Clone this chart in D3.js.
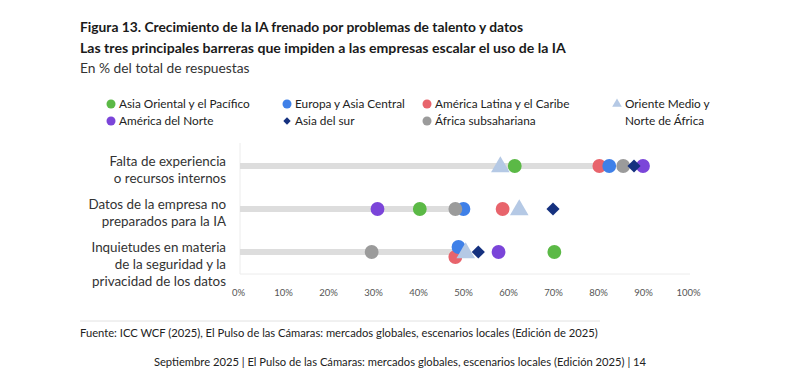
<!DOCTYPE html>
<html>
<head>
<meta charset="utf-8">
<script src="https://cdn.jsdelivr.net/npm/d3@7"></script>
<style>
    body { margin: 0; background: #fff; }
    svg { font-family: "Lato", "Open Sans", sans-serif; }
</style>
</head>
<body>
<div id="chart"></div>
<script>
const WIDTH = 800;
const HEIGHT = 382;

// ------------------------------ data ------------------------------
const barriers = [
    ["Falta de experiencia", "o recursos internos"],
    ["Datos de la empresa no", "preparados para la IA"],
    ["Inquietudes en materia", "de la seguridad y la", "privacidad de los datos"]
];
const regions = [
    "Asia Oriental y el Pacífico",
    "Europa y Asia Central",
    "América Latina y el Caribe",
    "Oriente Medio y Norte de África",
    "América del Norte",
    "Asia del sur",
    "África subsahariana"
];
// one value per barrier, in % of answers
const eastAsia = [61.5, 40.4, 70.3];
const europe = [82.5, 50.1, 49.0];
const latam = [80.3, 58.8, 48.3];
const mena = [58.3, 62.5, 50.6];
const northAmerica = [90.0, 31.0, 57.9];
const southAsia = [88.0, 70.0, 53.4];
const subSaharan = [85.6, 48.3, 29.7];
const barValues = [82, 50.5, 49.5];
const xTicks = [0, 10, 20, 30, 40, 50, 60, 70, 80, 90, 100];

const seriesValues = [eastAsia, europe, latam, mena, northAmerica, southAsia, subSaharan];
const COLORS = ["#5bb946", "#3f80e8", "#e8646c", "#b5c9e5", "#7b45d9", "#15317f", "#9b9b9b"];
const SHAPES = ["circle", "circle", "circle", "triangle", "circle", "diamond", "circle"];
// drawing order (later on top)
const DRAW_ORDER = [0, 2, 1, 6, 4, 5, 3];

const svg = d3.select("#chart")
    .append("svg")
    .attr("width", WIDTH)
    .attr("height", HEIGHT);

// --------------------------- titles ---------------------------
svg.append("text").attr("x", 80).attr("y", 32)
    .attr("font-size", 13.8).attr("font-weight", 700).attr("fill", "#1a1a1a")
    .text("Figura 13. Crecimiento de la IA frenado por problemas de talento y datos");
svg.append("text").attr("x", 80).attr("y", 53)
    .attr("font-size", 14.1).attr("font-weight", 700).attr("fill", "#1a1a1a")
    .text("Las tres principales barreras que impiden a las empresas escalar el uso de la IA");
svg.append("text").attr("x", 80).attr("y", 73)
    .attr("font-size", 13.8).attr("fill", "#333")
    .text("En % del total de respuestas");

// --------------------------- scales ---------------------------
const x = d3.scaleLinear().domain([0, 100]).range([238, 688]);
const y = d3.scalePoint().domain(d3.range(barriers.length)).range([166, 252]);

function symbolPath(shape, size) {
    const type = shape === "triangle" ? d3.symbolTriangle
        : shape === "diamond" ? d3.symbolDiamond2 : d3.symbolCircle;
    return d3.symbol().type(type).size(size)();
}

// --------------------------- legend ---------------------------
const legendCols = [111, 287, 427, 617];
const legendRows = [104, 121];
const legendPos = [[0, 0], [1, 0], [2, 0], [3, 0], [0, 1], [1, 1], [2, 1]];
const legend = svg.append("g").attr("font-size", 11.8).attr("fill", "#222");
regions.forEach((name, i) => {
    const [c, r] = legendPos[i];
    const lx = legendCols[c];
    const ly = legendRows[r];
    const size = SHAPES[i] === "circle" ? 64 : SHAPES[i] === "triangle" ? 40 : 35;
    legend.append("path")
        .attr("d", symbolPath(SHAPES[i], size))
        .attr("transform", `translate(${lx},${ly})`)
        .attr("fill", COLORS[i]);
    const lines = i === 3 ? ["Oriente Medio y", "Norte de África"] : [name];
    lines.forEach((line, k) => {
        legend.append("text")
            .attr("x", lx + 8)
            .attr("y", ly + 4 + k * 17)
            .attr("fill", "#222")
            .text(line);
    });
});

// --------------------------- axes ---------------------------
svg.append("line")
    .attr("x1", x(0) + 2).attr("x2", x(0) + 2)
    .attr("y1", 143).attr("y2", 274)
    .attr("stroke", "#ececec").attr("stroke-width", 1);
svg.append("line")
    .attr("x1", x(0) + 2).attr("x2", x(100) + 2)
    .attr("y1", 274).attr("y2", 274)
    .attr("stroke", "#ececec").attr("stroke-width", 1);

const xAxis = d3.axisBottom(x)
    .tickValues(xTicks)
    .tickSize(0)
    .tickFormat(d => `${d}%`);
svg.append("g")
    .attr("transform", "translate(0,286)")
    .call(xAxis)
    .call(g => g.select(".domain").remove())
    .selectAll("text")
    .attr("font-family", "Lato, sans-serif")
    .attr("font-size", 9.5)
    .attr("fill", "#555");

// --------------------------- category labels ---------------------------
const labels = svg.append("g").attr("font-size", 13.4).attr("fill", "#333").attr("text-anchor", "end");
barriers.forEach((lines, i) => {
    lines.forEach((line, k) => {
        labels.append("text")
            .attr("x", 226)
            .attr("y", y(i) + k * 17)
            .text(line);
    });
});

// --------------------------- bars ---------------------------
svg.append("g")
    .selectAll("line")
    .data(barValues)
    .enter()
    .append("line")
    .attr("x1", x(0) + 2)
    .attr("x2", d => x(d))
    .attr("y1", (d, i) => y(i))
    .attr("y2", (d, i) => y(i))
    .attr("stroke", "#dddddd")
    .attr("stroke-width", 6);

// --------------------------- points ---------------------------
const points = [];
DRAW_ORDER.forEach(s => {
    seriesValues[s].forEach((v, row) => {
        points.push({series: s, row: row, value: v, dy: 0});
    });
});
// small vertical dodge for points that sit almost on top of each other
barriers.forEach((_, row) => {
    const inRow = points.filter(p => p.row === row && SHAPES[p.series] === "circle");
    inRow.forEach(p => {
        const close = inRow.filter(q => q !== p && Math.abs(q.value - p.value) < 1);
        if (close.length) p.dy = p.value > close[0].value ? -5 : 5;
    });
});

svg.append("g")
    .selectAll("path")
    .data(points)
    .enter()
    .append("path")
    .attr("d", d => symbolPath(SHAPES[d.series],
        SHAPES[d.series] === "circle" ? 150 : SHAPES[d.series] === "triangle" ? 150 : 110))
    .attr("transform", d => `translate(${x(d.value)},${y(d.row) + d.dy + (SHAPES[d.series] === "triangle" ? 1 : 0)})`)
    .attr("fill", d => COLORS[d.series]);

// --------------------------- source / footer ---------------------------
svg.append("line")
    .attr("x1", 80).attr("x2", 600)
    .attr("y1", 321).attr("y2", 321)
    .attr("stroke", "#e2e2e2");
svg.append("text").attr("x", 80).attr("y", 337)
    .attr("font-size", 11.2).attr("fill", "#222")
    .text("Fuente: ICC WCF (2025), El Pulso de las Cámaras: mercados globales, escenarios locales (Edición de 2025)");
svg.append("text").attr("x", 400).attr("y", 366)
    .attr("text-anchor", "middle")
    .attr("font-size", 11.2).attr("fill", "#222")
    .text("Septiembre 2025 | El Pulso de las Cámaras: mercados globales, escenarios locales (Edición 2025) | 14");
</script>
</body>
</html>
